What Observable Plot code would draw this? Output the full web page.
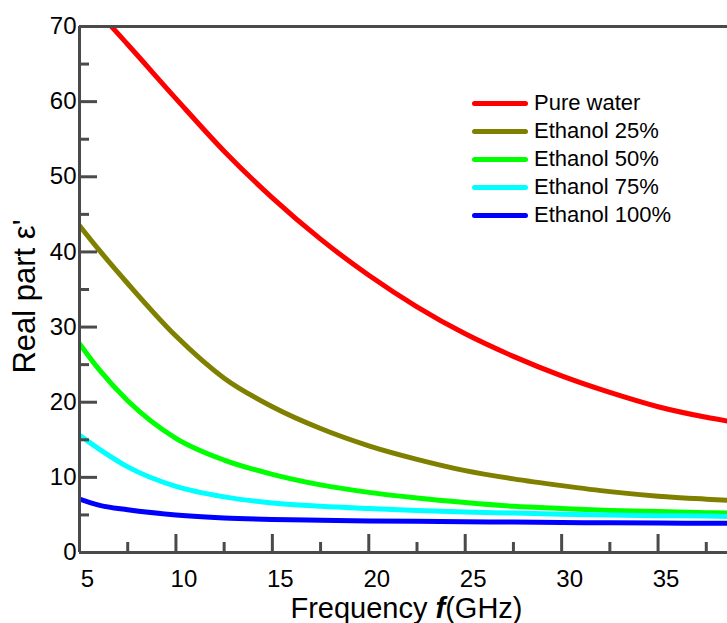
<!DOCTYPE html>
<html>
<head>
<meta charset="utf-8">
<script src="https://cdn.jsdelivr.net/npm/d3@7"></script>
<script src="https://cdn.jsdelivr.net/npm/@observablehq/plot@0.6"></script>
<style>
  html, body { margin: 0; padding: 0; background: #fff; }
  #wrap { position: relative; width: 727px; height: 623px; overflow: hidden; font-family: "Liberation Sans", Arial, sans-serif; }
  #legend { position: absolute; left: 472px; top: 89px; }
  .row { display: flex; align-items: center; height: 28px; }
  .sw { display: inline-block; width: 56px; height: 5px; border-radius: 3px; margin-right: 6px; }
  .lb { font-size: 22px; color: #000; line-height: 28px; }
</style>
</head>
<body>
<div id="wrap"><div id="legend"></div></div>
<script>
// ---- data ----
const freq = [5, 6, 7.5, 10, 12.5, 15, 17.5, 20, 22.5, 25, 27.5, 30, 32.5, 35, 37.5, 38.6];
const seriesNames = ["Pure water", "Ethanol 25%", "Ethanol 50%", "Ethanol 75%", "Ethanol 100%"];
const seriesColors = ["#ff0000", "#808000", "#00ff00", "#00ffff", "#0000ff"];
const pureWater  = [74.3, 71.8, 67.6, 60.4, 53.4, 47.2, 41.7, 36.9, 32.7, 29.1, 26.1, 23.5, 21.3, 19.4, 18.0, 17.5];
const ethanol25  = [43.5, 40.3, 35.8, 28.8, 23.2, 19.4, 16.5, 14.2, 12.4, 10.9, 9.8, 8.9, 8.1, 7.5, 7.1, 6.95];
const ethanol50  = [27.8, 24.4, 20.2, 15.2, 12.3, 10.4, 9.0, 8.0, 7.25, 6.65, 6.15, 5.85, 5.6, 5.45, 5.3, 5.25];
const ethanol75  = [15.6, 13.8, 11.4, 8.8, 7.4, 6.6, 6.15, 5.85, 5.6, 5.4, 5.25, 5.1, 5.0, 4.9, 4.85, 4.8];
const ethanol100 = [7.1, 6.3, 5.7, 5.0, 4.6, 4.4, 4.3, 4.2, 4.15, 4.1, 4.05, 4.0, 3.95, 3.92, 3.9, 3.9];
const xTickLabels = [5, 10, 15, 20, 25, 30, 35];
const xMinorTicks = [7.5, 12.5, 17.5, 22.5, 27.5, 32.5, 37.5];
const yTickLabels = [0, 10, 20, 30, 40, 50, 60, 70];
const yMinorTicks = [5, 15, 25, 35, 45, 55, 65];
const xDomain = [5, 38.6];
const yDomain = [0, 70];

// ---- build table ----
const allValues = [pureWater, ethanol25, ethanol50, ethanol75, ethanol100];
const rows = [];
seriesNames.forEach((s, i) => freq.forEach((f, j) => rows.push({series: s, f, v: allValues[i][j]})));

const W = 727, H = 623;
const mL = 79, mR = 0, mT = 26, mB = 71;
const plotW = W - mL - mR, plotH = H - mT - mB;
const axisColor = "#4a4a4a";

const chart = Plot.plot({
  width: W, height: H,
  marginLeft: mL, marginRight: mR, marginTop: mT, marginBottom: mB,
  style: {fontFamily: "Liberation Sans, Arial, sans-serif", fontSize: "24px", color: "#000", background: "#fff"},
  x: {domain: xDomain, label: null},
  y: {domain: yDomain, label: null},
  color: {domain: seriesNames, range: seriesColors},
  marks: [
    Plot.line(rows, {x: "f", y: "v", z: "series", stroke: "series", strokeWidth: 5, curve: "monotone-x", clip: true}),
    // axes lines
    Plot.ruleY([0, 70], {stroke: axisColor, strokeWidth: 3}),
    Plot.ruleX([5], {stroke: axisColor, strokeWidth: 3}),
    // inward ticks
    Plot.tickX(xTickLabels.slice(1), {x: d => d, stroke: axisColor, strokeWidth: 3, insetTop: plotH - 18}),
    Plot.tickX(xMinorTicks, {x: d => d, stroke: axisColor, strokeWidth: 3, insetTop: plotH - 10}),
    Plot.tickY(yTickLabels, {y: d => d, stroke: axisColor, strokeWidth: 3, insetRight: plotW - 18}),
    Plot.tickY(yMinorTicks, {y: d => d, stroke: axisColor, strokeWidth: 3, insetRight: plotW - 10}),
    // tick labels
    Plot.axisX(xTickLabels, {tickSize: 0, tickPadding: 17.5, dx: 8, fontSize: 24, label: null}),
    Plot.axisY(yTickLabels, {tickSize: 0, tickPadding: 3, fontSize: 24, label: null}),
    // axis titles
    Plot.text(["Real part ε'"], {frameAnchor: "left", textAnchor: "middle", lineAnchor: "middle", dx: -54, dy: 7, rotate: -90, fontSize: 31, fill: "#000"}),
    Plot.text(["Frequency f(GHz)"], {frameAnchor: "bottom", textAnchor: "middle", lineAnchor: "middle", dy: 56.5, dx: 3, fontSize: 29, fill: "#000"})
  ]
});

// style the bold-italic f in the x title
d3.select(chart).selectAll("text").filter(function() { return this.textContent === "Frequency f(GHz)"; })
  .each(function() {
    const t = d3.select(this);
    t.text(null);
    t.append("tspan").text("Frequency ");
    t.append("tspan").attr("font-weight", "bold").attr("font-style", "italic").text("f");
    t.append("tspan").text("(GHz)");
  });

document.getElementById("wrap").prepend(chart);

// legend
const legend = document.getElementById("legend");
seriesNames.forEach((s, i) => {
  const r = document.createElement("div");
  r.className = "row";
  const sw = document.createElement("span");
  sw.className = "sw";
  sw.style.background = seriesColors[i];
  const lb = document.createElement("span");
  lb.className = "lb";
  lb.textContent = s;
  r.appendChild(sw); r.appendChild(lb);
  legend.appendChild(r);
});
</script>
</body>
</html>
